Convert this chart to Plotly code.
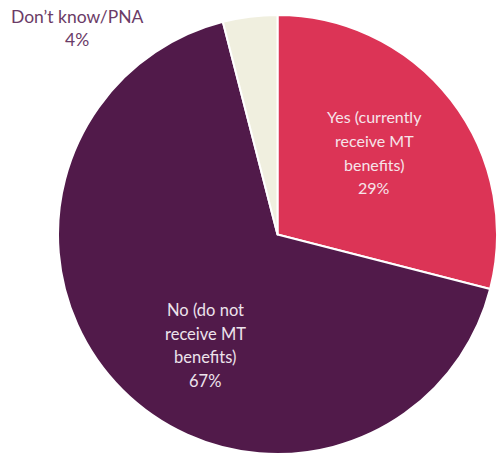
import plotly.graph_objects as go

# Survey responses: currently receiving MT benefits?
labels = ["Yes (currently receive MT benefits)",
          "No (do not receive MT benefits)",
          "Don\u2019t know/PNA"]
label_lines = [["Yes (currently", "receive MT", "benefits)"],
               ["No (do not", "receive MT", "benefits)"],
               ["Don\u2019t know/PNA"]]
values = [29, 67, 4]
colors = ["#DC3456", "#511A4A", "#F0EFDF"]
text_colors = ["#F6E4EA", "#EDE3EC", "#6B3B67"]
text_sizes = [16, 16.5, 17.5]

W, H = 497, 456

fig = go.Figure(go.Pie(
    labels=labels,
    values=values,
    sort=False,
    direction="clockwise",
    rotation=0,
    marker=dict(colors=colors, line=dict(color="white", width=2)),
    textinfo="none",
    hoverinfo="label+percent",
    domain=dict(x=[58 / W, 1.0], y=[1 / H, 442 / H]),
    showlegend=False,
))

# label anchor (pixel x, pixel y of first line) for each slice
anchors = [(374, 117), (205, 310), (77, 16)]
line_gap = 23.5

annotations = []
for lines, val, col, size, (ax, ay) in zip(label_lines, values, text_colors,
                                           text_sizes, anchors):
    rows = lines + [f"{val}%"]
    for i, row in enumerate(rows):
        annotations.append(dict(
            text=row, x=ax / W, y=1 - (ay + i * line_gap) / H,
            xref="paper", yref="paper", showarrow=False,
            xanchor="center", yanchor="middle",
            font=dict(family="Lato, 'Open Sans', sans-serif", size=size, color=col),
        ))

fig.update_layout(
    width=W, height=H,
    margin=dict(l=0, r=0, t=0, b=0),
    paper_bgcolor="white",
    plot_bgcolor="white",
    annotations=annotations,
)

fig.write_html("out.html")
